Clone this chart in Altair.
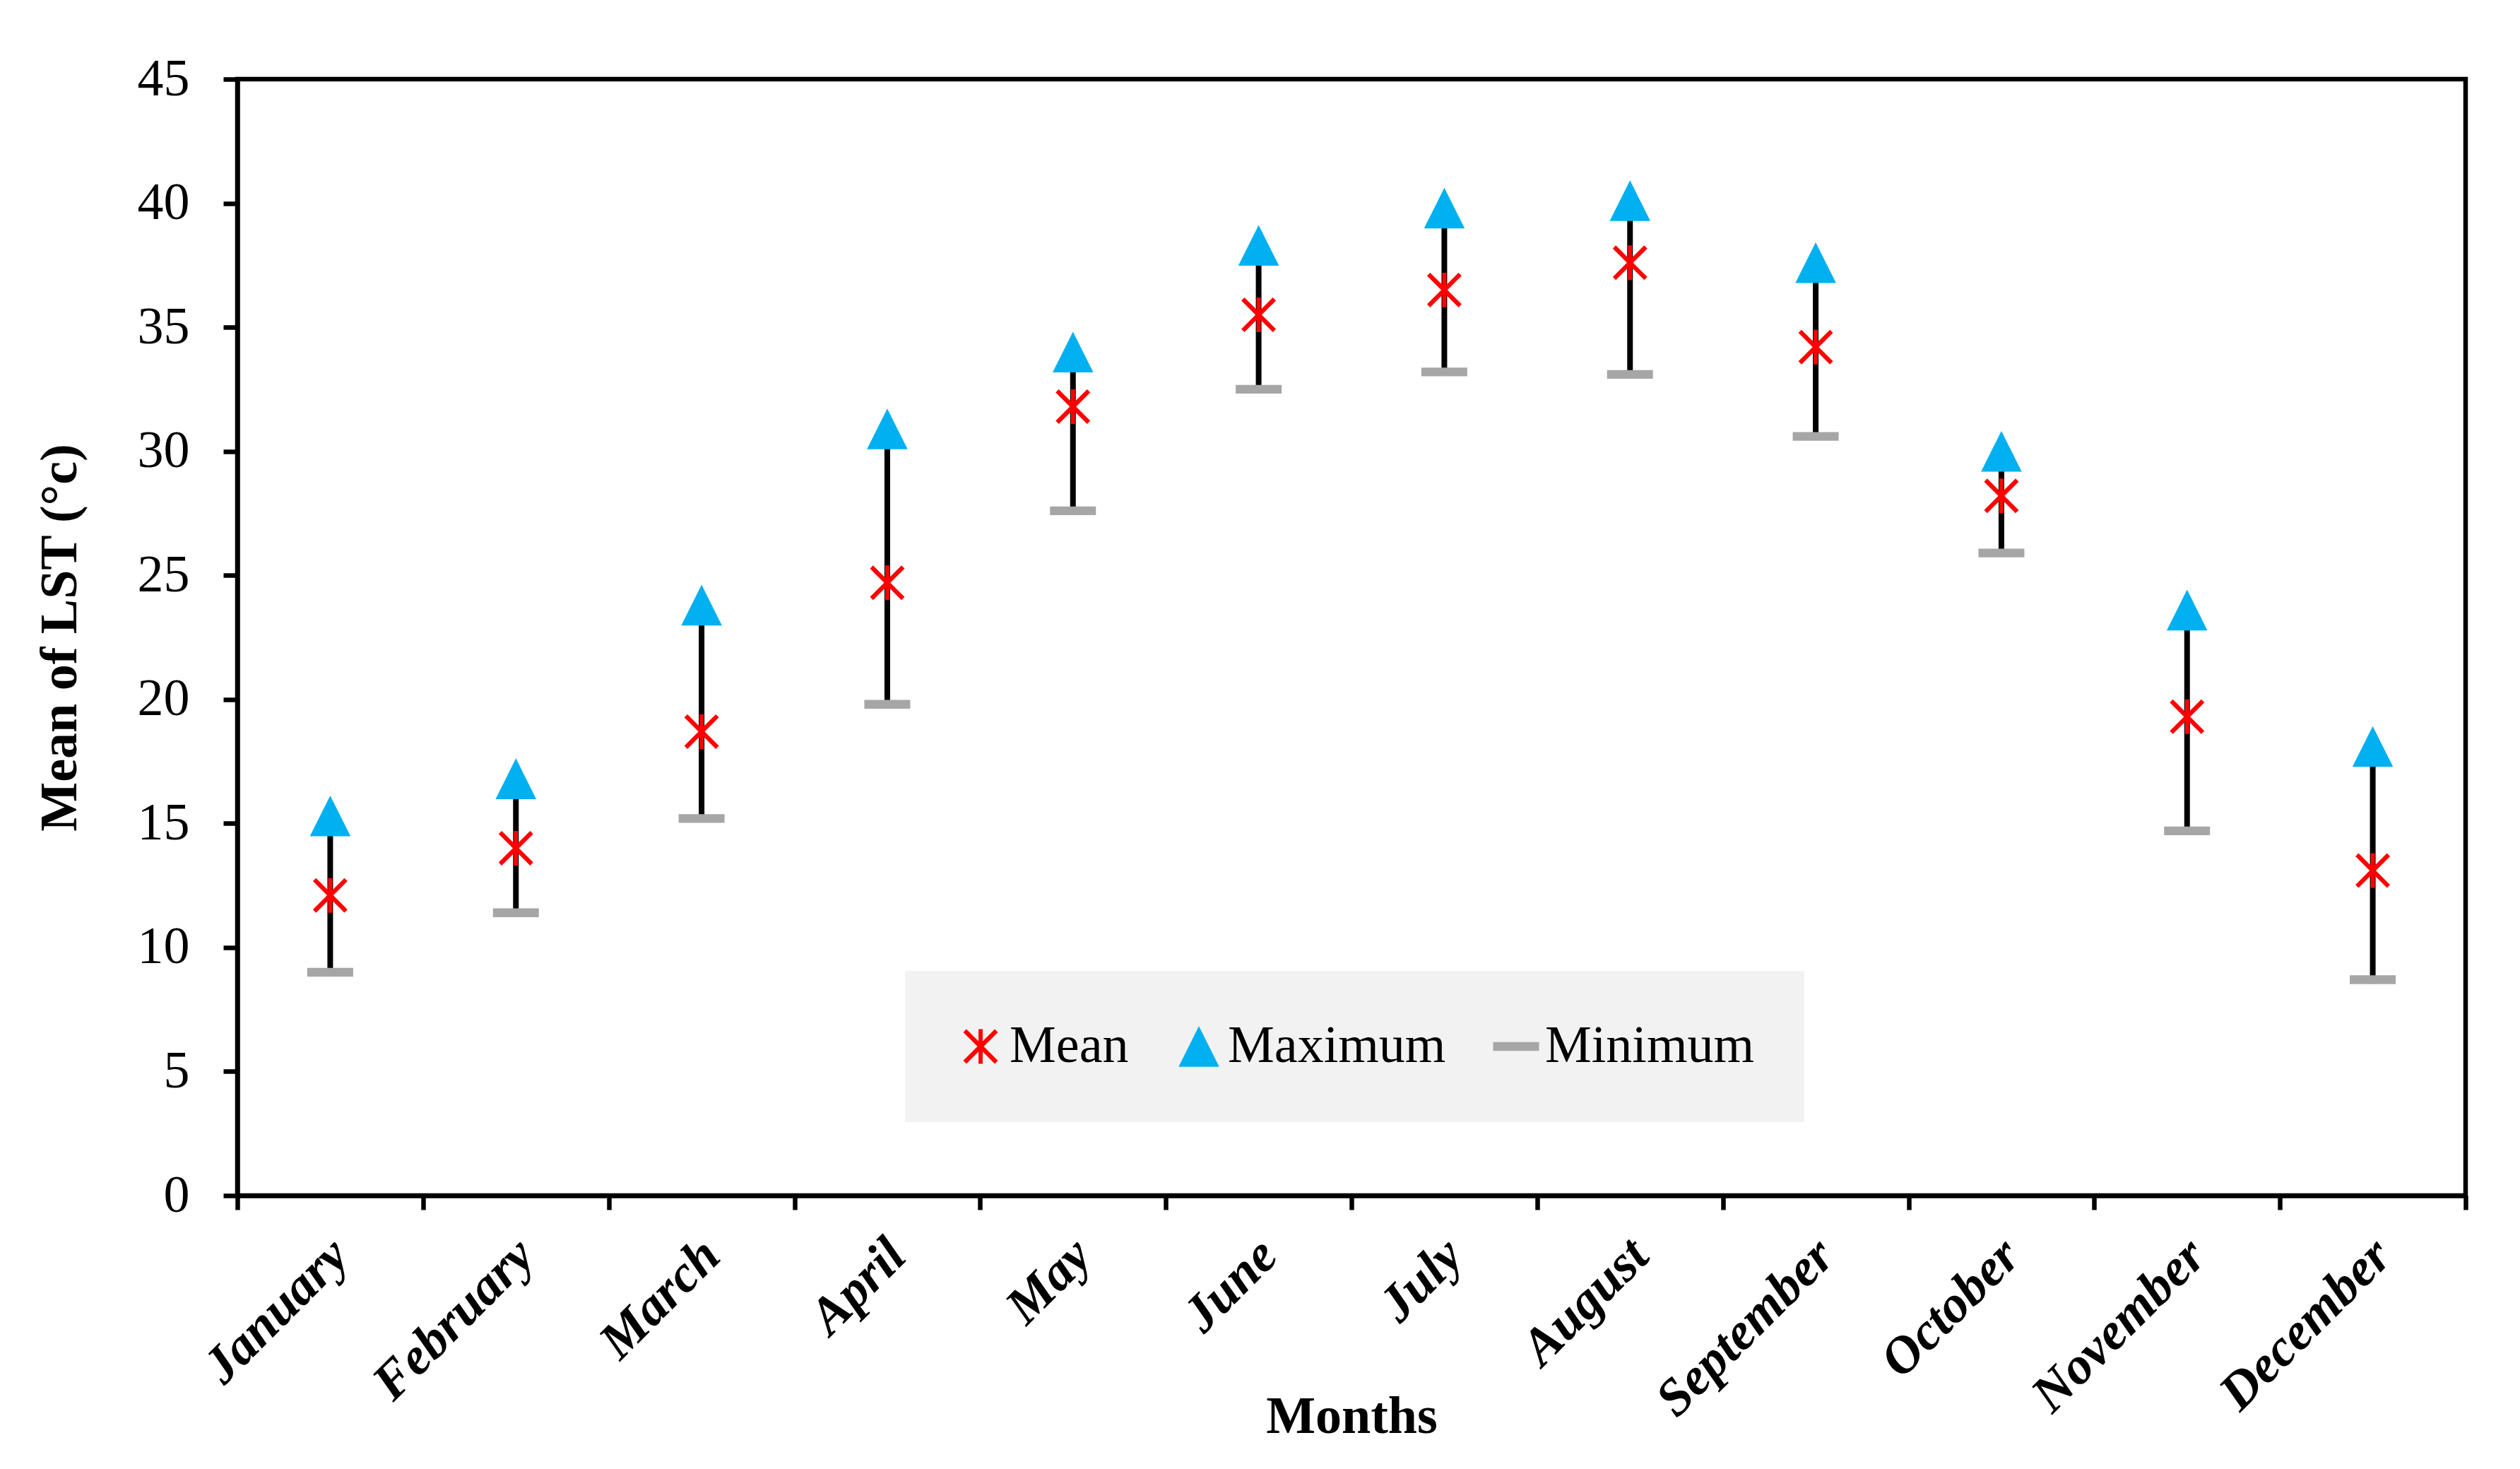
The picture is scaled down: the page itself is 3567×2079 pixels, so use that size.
import json
import altair as alt
import pandas as pd

months = ["January", "February", "March", "April", "May", "June", "July",
          "August", "September", "October", "November", "December"]
mean_lst = [12.1, 14.0, 18.7, 24.7, 31.8, 35.5, 36.5, 37.6, 34.2, 28.2, 19.3, 13.1]
max_lst = [15.3, 16.8, 23.8, 30.9, 34.0, 38.3, 39.8, 40.1, 37.6, 30.0, 23.6, 18.1]
min_lst = [9.0, 11.4, 15.2, 19.8, 27.6, 32.5, 33.2, 33.1, 30.6, 25.9, 14.7, 8.7]
series_names = ["Mean", "Maximum", "Minimum"]
y_ticks = [0, 5, 10, 15, 20, 25, 30, 35, 40, 45]

FONT = "Liberation Serif"

rows = []
bars = []
for i, m in enumerate(months):
    pos = i + 0.5
    bars.append({"month": m, "pos": pos, "lo": min_lst[i], "hi": max_lst[i]})
    for s, vals in zip(series_names, [mean_lst, max_lst, min_lst]):
        rows.append({"month": m, "pos": pos, "series": s, "value": vals[i]})
df = pd.DataFrame(rows)
bars_df = pd.DataFrame(bars)

star_path = ("M-0.82,-1L1,0.82L0.82,1L-1,-0.82Z"
             "M0.82,-1L1,-0.82L-0.82,1L-1,0.82Z"
             "M-0.12,-1L0.12,-1L0.12,1L-0.12,1Z")
tri_path = "M0,-1L1,1L-1,1Z"
dash_path = "M-1,-0.19L1,-0.19L1,0.19L-1,0.19Z"

label_expr = f"datum.value < {len(months)} ? {json.dumps(months)}[datum.value] : ''"

x_enc = alt.X(
    "pos:Q",
    scale=alt.Scale(domain=[0, len(months)], nice=False, zero=False),
    axis=alt.Axis(
        title="Months",
        values=list(range(len(months) + 1)),
        labelExpr=label_expr,
        labelAngle=-45,
        labelOffset=120,
        labelPadding=28,
        labelOverlap=False,
        labelFlush=False,
        labelBound=False,
        labelFont=FONT,
        labelFontSize=74,
        labelFontWeight="bold",
        labelFontStyle="italic",
        labelColor="black",
        labelLimit=1000,
        tickSize=20,
        titleFont=FONT,
        titleFontSize=74,
        titleFontWeight="bold",
        titleColor="black",
        titleBaseline="alphabetic",
        titleY=335,
    ),
)

y_scale = alt.Scale(domain=[0, 45], nice=False)
y_axis = alt.Axis(
    title="Mean of LST (°c)",
    values=y_ticks,
    format="d",
    labelFont=FONT,
    labelFontSize=74,
    labelColor="black",
    labelPadding=48,
    tickSize=20,
    titleFont=FONT,
    titleFontSize=74,
    titleFontWeight="bold",
    titleColor="black",
    titleAngle=270,
    titleAlign="center",
    titleBaseline="alphabetic",
    titleX=-229,
    titleY=790,
)

rules = alt.Chart(bars_df).mark_rule(color="black", strokeWidth=8).encode(
    x=x_enc,
    y=alt.Y("lo:Q", scale=y_scale, axis=y_axis),
    y2="hi:Q",
)

points = alt.Chart(df).mark_point(filled=True, opacity=1, strokeWidth=0).encode(
    x=x_enc,
    y=alt.Y("value:Q", scale=y_scale, axis=y_axis),
    color=alt.Color(
        "series:N",
        scale=alt.Scale(domain=series_names, range=["#FF0000", "#00B0F0", "#A6A6A6"]),
        legend=alt.Legend(
            title=None,
            orient="none",
            direction="horizontal",
            legendX=945,
            legendY=1262,
            fillColor="#F2F2F2",
            padding=70,
            symbolSize=1500,
            symbolStrokeWidth=0,
            symbolOpacity=1,
            labelFont=FONT,
            labelFontSize=74,
            labelColor="black",
            labelOffset=4,
            labelLimit=1000,
            columnPadding=62,
        ),
    ),
    shape=alt.Shape(
        "series:N",
        scale=alt.Scale(domain=series_names, range=[star_path, tri_path, dash_path]),
    ),
    size=alt.Size(
        "series:N",
        scale=alt.Scale(domain=series_names, range=[2400, 4225, 3721]),
        legend=None,
    ),
)

chart = (
    alt.layer(rules, points)
    .properties(
        width=3154,
        height=1580,
        autosize=alt.AutoSizeParams(type="none"),
        padding={"left": 328, "top": 104, "right": 60, "bottom": 370},
        background="white",
    )
    .configure_view(stroke="black", strokeWidth=6.5)
    .configure_axis(
        grid=False,
        domainColor="black",
        domainWidth=6.5,
        tickColor="black",
        tickWidth=6.5,
    )
)

chart.save("out.html", embed_options={"renderer": "svg", "actions": False})
